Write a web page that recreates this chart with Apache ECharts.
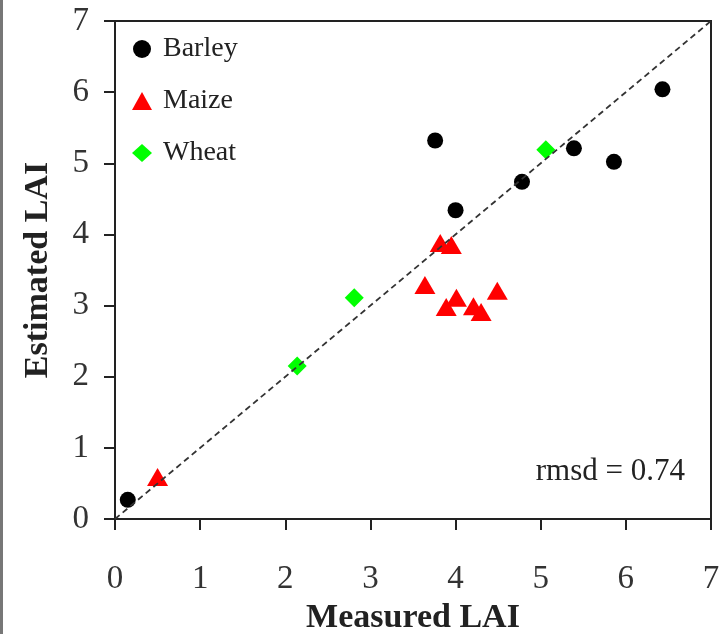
<!DOCTYPE html>
<html>
<head>
<meta charset="utf-8">
<script src="https://cdn.jsdelivr.net/npm/echarts@6/dist/echarts.min.js"></script>
<style>
  html, body { margin: 0; padding: 0; background: #fff; }
  #wrap { position: relative; width: 722px; height: 634px; }
  #bar { position: absolute; left: 0; top: 0; width: 3px; height: 634px; background: #777; }
  #chart { position: absolute; left: 0; top: 0; width: 722px; height: 634px; }
</style>
</head>
<body>
<div id="wrap"><div id="chart"></div><div id="bar"></div></div>
<script>
const xTicks = [0, 1, 2, 3, 4, 5, 6, 7];
const yTicks = [0, 1, 2, 3, 4, 5, 6, 7];
const barley = [[0.15, 0.27], [3.76, 5.32], [4.0, 4.34], [4.78, 4.74], [5.39, 5.21], [5.86, 5.02], [6.43, 6.04]];
const maize = [[0.50, 0.59], [3.82, 3.88], [3.95, 3.85], [3.64, 3.29], [4.49, 3.21], [4.01, 3.11], [3.89, 2.98], [4.21, 2.99], [4.30, 2.91]];
const wheat = [[2.14, 2.15], [2.81, 3.11], [5.06, 5.19]];
const oneToOne = [[0, 0], [7, 7]];
const rmsdText = 'rmsd = 0.74';
const xTitle = 'Measured LAI';
const yTitle = 'Estimated LAI';

const serif = '"Liberation Serif", "DejaVu Serif", serif';
const chart = echarts.init(document.getElementById('chart'), null, { renderer: 'canvas' });

const axisCommon = {
  min: xTicks[0], max: xTicks[xTicks.length - 1], interval: 1,
  splitLine: { show: false },
  axisLine: { show: true, onZero: false, lineStyle: { color: '#222', width: 2 } },
  axisTick: { show: true, inside: false, length: 11, lineStyle: { color: '#222', width: 2 } },
  axisLabel: { fontFamily: serif, fontSize: 33, color: '#333' }
};

chart.setOption({
  animation: false,
  backgroundColor: '#fff',
  grid: { left: 115, right: 11, top: 21, bottom: 115, containLabel: false, outerBoundsMode: 'none',
          show: true, borderColor: '#222', borderWidth: 2 },
  xAxis: Object.assign({}, axisCommon, {
    type: 'value',
    name: xTitle, nameLocation: 'middle', nameGap: 82,
    nameTextStyle: { fontFamily: serif, fontSize: 34, fontWeight: 'bold', color: '#222' },
    axisLabel: Object.assign({}, axisCommon.axisLabel, { margin: 44 })
  }),
  yAxis: Object.assign({}, axisCommon, {
    type: 'value',
    min: yTicks[0], max: yTicks[yTicks.length - 1],
    name: yTitle, nameLocation: 'middle', nameGap: 60,
    nameTextStyle: { fontFamily: serif, fontSize: 34, fontWeight: 'bold', color: '#222' },
    axisLabel: Object.assign({}, axisCommon.axisLabel, { margin: 26 })
  }),
  legend: {
    orient: 'vertical', left: 127, top: 30,
    itemWidth: 20, itemHeight: 18, itemGap: 24,
    textStyle: { fontFamily: serif, fontSize: 28, color: '#222', lineHeight: 28, padding: [0, 0, 0, 6] },
    data: [
      { name: 'Barley', icon: 'circle', itemStyle: { color: '#000' } },
      { name: 'Maize', icon: 'triangle', itemStyle: { color: '#ff0000' } },
      { name: 'Wheat', icon: 'diamond', itemStyle: { color: '#00ff00' } }
    ]
  },
  series: [
    {
      type: 'line', data: oneToOne, symbol: 'none', silent: true,
      lineStyle: { color: '#333', width: 1.8, type: [6, 4] }
    },
    { name: 'Barley', type: 'scatter', data: barley, symbol: 'circle', symbolSize: 16, itemStyle: { color: '#000', opacity: 1 } },
    { name: 'Maize', type: 'scatter', data: maize, symbol: 'triangle', symbolSize: [21, 18], itemStyle: { color: '#ff0000', opacity: 1 } },
    { name: 'Wheat', type: 'scatter', data: wheat, symbol: 'diamond', symbolSize: 19, itemStyle: { color: '#00ff00', opacity: 1 } }
  ],
  graphic: [
    { type: 'text', right: 37, top: 456, style: { text: rmsdText, font: '31px ' + serif, fill: '#222' } }
  ]
});
</script>
</body>
</html>
